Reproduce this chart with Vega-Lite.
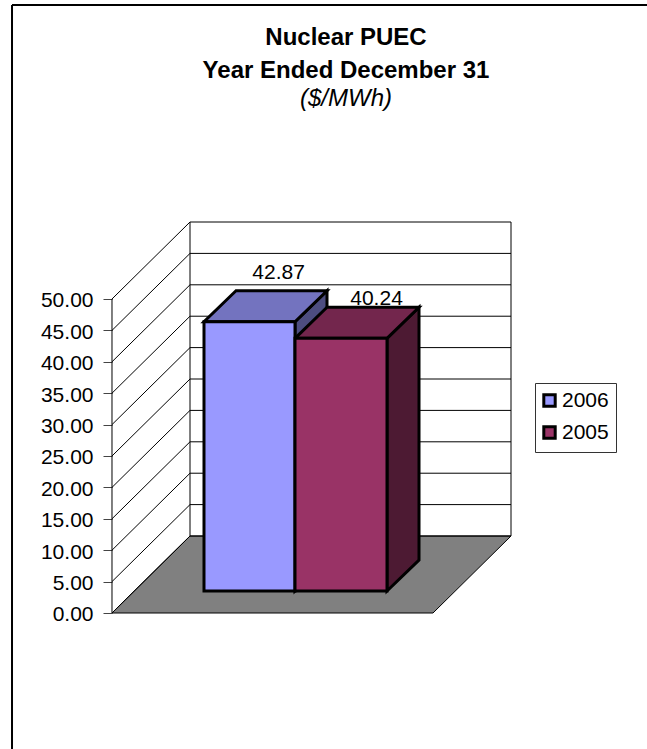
{
  "$schema": "https://vega.github.io/schema/vega-lite/v6.json",
  "width": 647,
  "height": 749,
  "padding": 0,
  "autosize": {"type": "none"},
  "background": "white",
  "view": {"stroke": null},
  "config": {"font": "Liberation Sans"},
  "title": {
    "text": ["Nuclear PUEC", "Year Ended December 31"],
    "subtitle": "($/MWh)",
    "anchor": "middle",
    "frame": "group",
    "orient": "top",
    "offset": -111,
    "dx": 22.5,
    "fontSize": 24,
    "fontWeight": "bold",
    "color": "#000000",
    "lineHeight": 33,
    "subtitleFontSize": 24,
    "subtitleFontStyle": "italic",
    "subtitleColor": "#000000",
    "subtitlePadding": 4
  },
  "datasets": {
    "bars": [
      {"year": "2006", "value": 42.87, "left": 0.2866, "right": 0.5701, "depth": 0},
      {"year": "2006", "value": 42.87, "left": 0.2866, "right": 0.5701, "depth": 1},
      {"year": "2005", "value": 40.24, "left": 0.5701, "right": 0.8567, "depth": 0},
      {"year": "2005", "value": 40.24, "left": 0.5701, "right": 0.8567, "depth": 1}
    ],
    "levels": [
      {"level": 0}, {"level": 5}, {"level": 10}, {"level": 15}, {"level": 20}, {"level": 25},
      {"level": 30}, {"level": 35}, {"level": 40}, {"level": 45}, {"level": 50}
    ],
    "walls": [
      {"front": 0, "depth": 0, "top": 50},
      {"front": 0, "depth": 1, "top": 50},
      {"front": 1, "depth": 1, "top": 50}
    ],
    "floor": [
      {"depth": 0, "from": 0, "to": 1},
      {"depth": 1, "from": 0, "to": 1}
    ],
    "frame": [
      {"edge": "top", "a": -0.3115, "b": 2, "c": 96.82, "d": 96.82},
      {"edge": "left", "a": -0.3115, "b": -0.3115, "c": 96.82, "d": -30}
    ]
  },
  "encoding": {
    "x": {
      "field": "px",
      "type": "quantitative",
      "scale": {"domain": [-0.34891, 1.66667], "range": [0, 647], "nice": false, "zero": false},
      "axis": null
    },
    "y": {
      "field": "py",
      "type": "quantitative",
      "scale": {"domain": [-21.656, 97.611], "range": [749, 0], "nice": false, "zero": false},
      "axis": {
        "title": null,
        "values": [0, 5, 10, 15, 20, 25, 30, 35, 40, 45, 50],
        "format": ".2f",
        "offset": -112,
        "domain": false,
        "grid": false,
        "ticks": true,
        "tickSize": 9,
        "tickColor": "#444444",
        "labelColor": "#000000",
        "labelFontSize": 21,
        "labelPadding": 10,
        "labelOffset": 2,
        "labelFlush": false,
        "labelOverlap": false
      }
    }
  },
  "layer": [
    {
      "data": {"name": "frame"},
      "transform": [
        {"calculate": "datum.a", "as": "px"},
        {"calculate": "datum.c", "as": "py"}
      ],
      "mark": {"type": "rule", "color": "#000000", "strokeWidth": 2},
      "encoding": {
        "x2": {"field": "b"},
        "y2": {"field": "d"}
      }
    },
    {
      "data": {"name": "floor"},
      "transform": [
        {"calculate": "datum.from + datum.depth * 0.243", "as": "px"},
        {"calculate": "datum.to + datum.depth * 0.243", "as": "px2"},
        {"calculate": "datum.depth * 12.26", "as": "py"}
      ],
      "mark": {"type": "area", "orient": "horizontal", "fill": "#808080", "stroke": "#000000", "strokeWidth": 1},
      "encoding": {"x2": {"field": "px2"}}
    },
    {
      "data": {"name": "levels"},
      "transform": [
        {"calculate": "0", "as": "px"},
        {"calculate": "0.243", "as": "px2"},
        {"calculate": "datum.level", "as": "py"},
        {"calculate": "datum.level + 12.26", "as": "py2"}
      ],
      "mark": {"type": "rule", "color": "#000000", "strokeWidth": 1},
      "encoding": {"x2": {"field": "px2"}, "y2": {"field": "py2"}}
    },
    {
      "data": {"name": "levels"},
      "transform": [
        {"calculate": "0.243", "as": "px"},
        {"calculate": "1.243", "as": "px2"},
        {"calculate": "datum.level + 12.26", "as": "py"}
      ],
      "mark": {"type": "rule", "color": "#000000", "strokeWidth": 1},
      "encoding": {"x2": {"field": "px2"}}
    },
    {
      "data": {"name": "walls"},
      "transform": [
        {"calculate": "datum.front + datum.depth * 0.243", "as": "px"},
        {"calculate": "datum.depth * 12.26", "as": "py"},
        {"calculate": "datum.top + datum.depth * 12.26", "as": "py2"}
      ],
      "mark": {"type": "rule", "color": "#000000", "strokeWidth": 1},
      "encoding": {"y2": {"field": "py2"}}
    },
    {
      "data": {"name": "bars"},
      "transform": [
        {"calculate": "datum.right + datum.depth * 0.0997", "as": "px"},
        {"calculate": "3.5 + datum.depth * 4.94", "as": "py"},
        {"calculate": "3.5 + datum.value + datum.depth * 4.94", "as": "py2"}
      ],
      "mark": {"type": "area", "orient": "vertical", "stroke": "#000000", "strokeWidth": 3, "strokeJoin": "miter"},
      "encoding": {
        "y2": {"field": "py2"},
        "fill": {"field": "year", "type": "nominal", "legend": null, "scale": {"domain": ["2006", "2005"], "range": ["#4D4D80", "#4D1A33"]}}
      }
    },
    {
      "data": {"name": "bars"},
      "transform": [
        {"calculate": "datum.left + datum.depth * 0.0997", "as": "px"},
        {"calculate": "datum.right + datum.depth * 0.0997", "as": "px2"},
        {"calculate": "3.5 + datum.value + datum.depth * 4.94", "as": "py"}
      ],
      "mark": {"type": "area", "orient": "horizontal", "stroke": "#000000", "strokeWidth": 3, "strokeJoin": "miter"},
      "encoding": {
        "x2": {"field": "px2"},
        "fill": {"field": "year", "type": "nominal", "legend": null, "scale": {"domain": ["2006", "2005"], "range": ["#7373BF", "#73264D"]}}
      }
    },
    {
      "data": {"name": "bars"},
      "transform": [
        {"filter": "datum.depth === 0"},
        {"calculate": "datum.left", "as": "px"},
        {"calculate": "datum.right", "as": "px2"},
        {"calculate": "3.5", "as": "py"},
        {"calculate": "3.5 + datum.value", "as": "py2"}
      ],
      "mark": {"type": "rect", "stroke": "#000000", "strokeWidth": 3, "strokeJoin": "miter"},
      "encoding": {
        "x2": {"field": "px2"},
        "y2": {"field": "py2"},
        "fill": {
          "field": "year",
          "type": "nominal",
          "scale": {"domain": ["2006", "2005"], "range": ["#9999FF", "#993366"]},
          "legend": {
            "title": null,
            "orient": "none",
            "legendX": 535,
            "legendY": 383,
            "padding": 7,
            "strokeColor": "#333333",
            "fillColor": "#FFFFFF",
            "symbolType": "square",
            "symbolSize": 130,
            "symbolStrokeColor": "#000000",
            "symbolStrokeWidth": 3,
            "symbolOpacity": 1,
            "symbolOffset": -3,
            "labelFontSize": 21,
            "labelColor": "#000000",
            "labelOffset": 2,
            "rowPadding": 7
          }
        }
      }
    },
    {
      "data": {"name": "bars"},
      "transform": [
        {"filter": "datum.depth === 1"},
        {"calculate": "(datum.left + datum.right) / 2 + 0.0997 + (datum.year === '2006' ? -0.009 : 0.011)", "as": "px"},
        {"calculate": "datum.value + (datum.year === '2006' ? 10.31 : 8.8)", "as": "py"}
      ],
      "mark": {"type": "text", "fontSize": 21, "color": "#000000", "align": "center", "baseline": "alphabetic"},
      "encoding": {
        "text": {"field": "value", "type": "quantitative", "format": ".2f"}
      }
    }
  ],
  "resolve": {"scale": {"fill": "independent"}}
}
